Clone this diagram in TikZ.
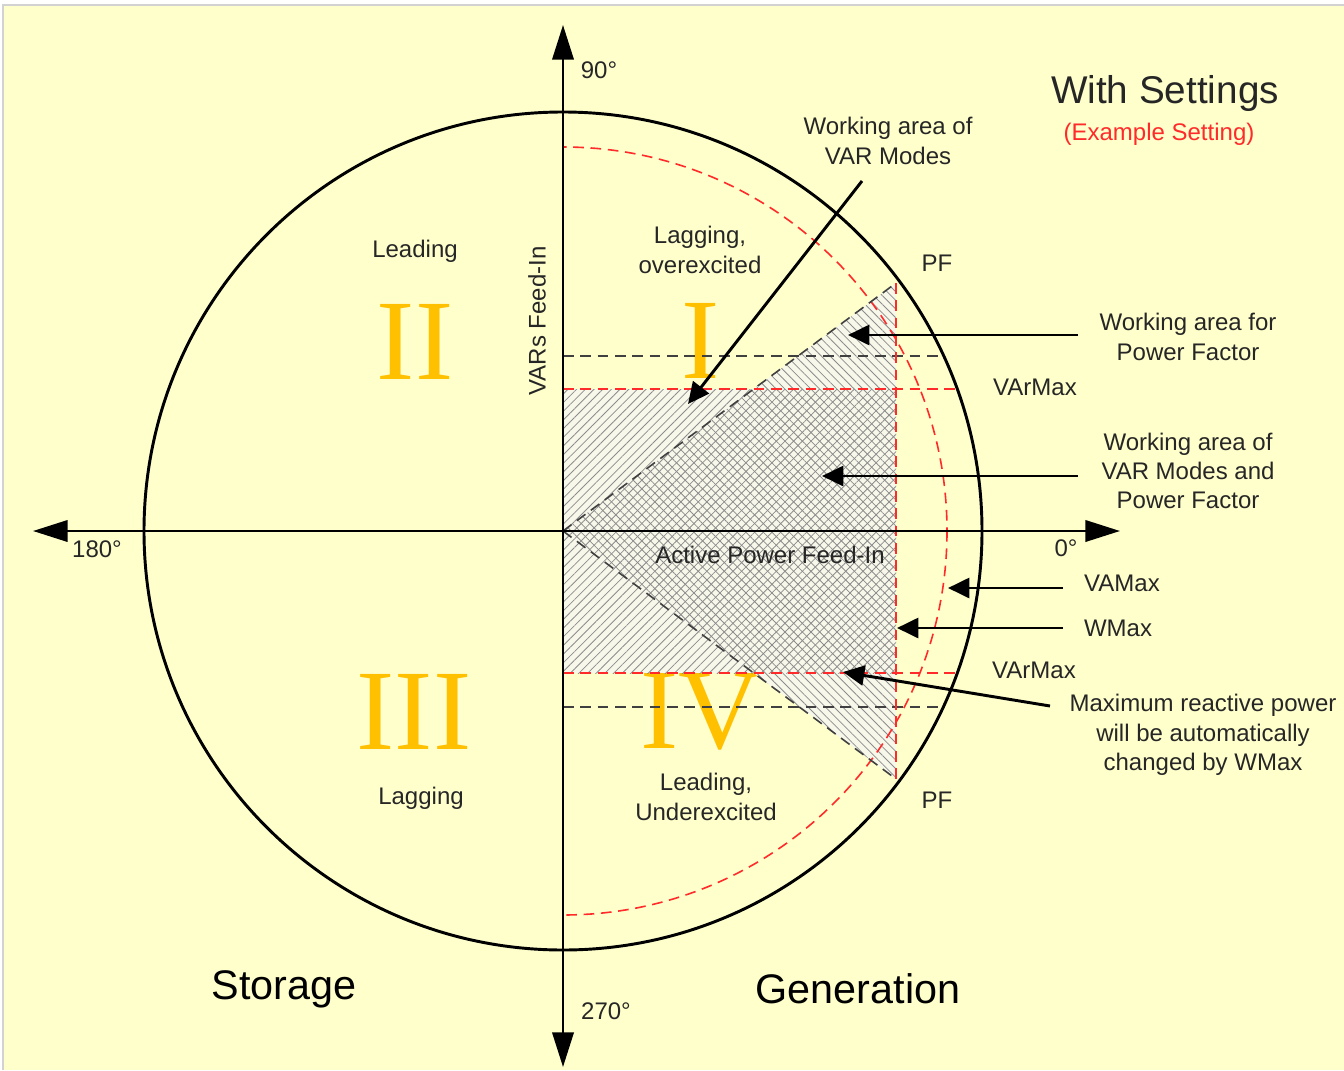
\documentclass[tikz,border=0pt]{standalone}
\usepackage{fontspec}
\setmainfont{Liberation Sans}
\newfontfamily\romanfont{Liberation Serif}
\usetikzlibrary{arrows.meta,patterns.meta}
\definecolor{bgyellow}{HTML}{FFFFCC}
\definecolor{gold}{HTML}{FFC000}
\definecolor{txt}{HTML}{262626}
\definecolor{dashred}{HTML}{FF2A2A}
\definecolor{hatchbg}{HTML}{F7F7EA}
\definecolor{hatchline}{HTML}{8C8C8C}
\begin{document}
\begin{tikzpicture}[x=0.75pt,y=-0.75pt,
  lbl/.style={text=txt,font=\fontsize{18}{22}\selectfont,align=center,inner sep=0pt},
  biglbl/.style={text=black,font=\fontsize{31}{36}\selectfont,inner sep=0pt},
  numeral/.style={text=gold,font=\romanfont\fontsize{86}{86}\selectfont,inner sep=0pt},
  axis/.style={line width=2pt,{Triangle[length=26pt,width=16pt]}-{Triangle[length=26pt,width=16pt]}},
  pointer/.style={line width=2.2pt,-{Triangle[length=16pt,width=15pt]}},
  reddash/.style={dash pattern=on 8pt off 5pt, draw=dashred, line width=1.2pt},
  blackdash/.style={dash pattern=on 8pt off 5pt, draw=black!75, line width=1.2pt},
  hatchA/.style={pattern={Lines[angle=45,distance=4.6pt,line width=0.6pt]}, pattern color=hatchline},
  hatchB/.style={pattern={Lines[angle=-45,distance=4.6pt,line width=0.6pt]}, pattern color=hatchline},
]
\path[use as bounding box] (0,0) rectangle (1344,1070);
% background
\fill[white] (0,0) rectangle (1344,1070);
\fill[bgyellow] (3,5) rectangle (1344,1070);
\draw[gray!35, line width=0.8pt] (3,1070) -- (3,5) -- (1344,5);

% key points
\coordinate (O) at (563,531);
\coordinate (PFu) at (896,283);
\coordinate (PFl) at (896,779);

% roman numerals
\node[numeral] (q2) at (415,342) {II};
\node[numeral] (q1) at (701,341) {I};
\node[numeral] (q3) at (414,712) {III};
\node[numeral] (q4) at (701,712) {IV};

% hatched working areas
\fill[hatchbg] (563,389) rectangle (896,673);
\fill[hatchbg] (O) -- (PFu) -- (PFl) -- cycle;
\fill[hatchA] (563,389) rectangle (896,673);
\fill[hatchB] (O) -- (PFu) -- (PFl) -- cycle;

% circles
\draw[line width=2.2pt] (O) circle[radius=419];
\begin{scope}
  \clip (563,0) rectangle (1344,1070);
  \draw[reddash] (O) circle[radius=384];
\end{scope}

% limit lines
\draw[blackdash] (563,356) -- (943,356);
\draw[blackdash] (563,707) -- (943,707);
\draw[blackdash] (O) -- (PFu);
\draw[blackdash] (O) -- (PFl);
\draw[reddash] (563,389) -- (958,389);
\draw[reddash] (563,673) -- (957,673);
\draw[reddash] (PFu) -- (PFl);

% axes
\coordinate (xl) at (33,531);
\coordinate (xr) at (1120,531);
\coordinate (yt) at (563,25);
\coordinate (yb) at (563,1067);
\draw[axis] (xl) -- (xr);
\draw[axis] (yb) -- (yt);

% labels
\node[lbl] (t90) at (599,70) {90°};
\node[lbl] (t180) at (97,549) {180°};
\node[lbl] (t0) at (1066,548) {0°};
\node[lbl] (t270) at (606,1011) {270°};
\node[lbl, rotate=90] (vars) at (537,321) {VARs Feed-In};
\node[lbl] (apf) at (770,555) {Active Power Feed-In};
\node[lbl] (lead) at (415,251) {Leading};
\node[lbl] (lagov) at (700,250) {Lagging,\\overexcited};
\node[lbl] (wvar) at (888,141) {Working area of\\VAR Modes};
\node[lbl] (pf1) at (937,263) {PF};
\node[lbl] (pf2) at (937,800) {PF};
\node[lbl] (wpf) at (1188,337) {Working area for\\Power Factor};
\node[lbl] (vmax1) at (1035,387) {VArMax};
\node[lbl] (vmax2) at (1034,670) {VArMax};
\node[lbl] (wboth) at (1188,471) {Working area of\\VAR Modes and\\Power Factor};
\node[lbl] (vamax) at (1122,583) {VAMax};
\node[lbl] (wmax) at (1118,628) {WMax};
\node[lbl] (maxr) at (1203,735) {Maximum reactive power\\will be automatically\\changed by WMax};
\node[lbl] (lag) at (421,798) {Lagging};
\node[lbl] (leadu) at (706,797) {Leading,\\Underexcited};
\node[biglbl] (stor) at (284,989) {Storage};
\node[biglbl] (gen) at (858,989) {Generation};
\node[text=txt,font=\fontsize{29}{34}\selectfont,inner sep=0pt] (title) at (1165,94) {With Settings};
\node[text=dashred,font=\fontsize{18}{22}\selectfont,inner sep=0pt] (ex) at (1159,134) {(Example Setting)};

% pointers
\coordinate (p1s) at (862,181); \coordinate (p1e) at (688,404);
\coordinate (p2s) at (1078,335); \coordinate (p2e) at (848,335);
\coordinate (p3s) at (1078,476); \coordinate (p3e) at (822,476);
\coordinate (p4s) at (1063,588); \coordinate (p4e) at (948,588);
\coordinate (p5s) at (1063,628); \coordinate (p5e) at (897,628);
\coordinate (p6s) at (1050,706); \coordinate (p6e) at (843,672);
\draw[pointer] (p1s) -- (p1e);
\draw[pointer] (p2s) -- (p2e);
\draw[pointer] (p3s) -- (p3e);
\draw[pointer] (p4s) -- (p4e);
\draw[pointer] (p5s) -- (p5e);
\draw[pointer] (p6s) -- (p6e);
\end{tikzpicture}
\end{document}
